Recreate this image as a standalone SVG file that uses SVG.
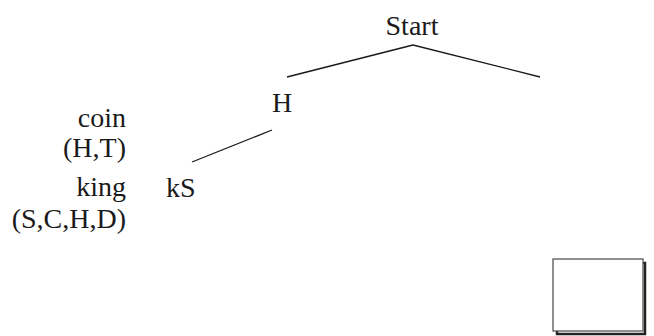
<svg xmlns="http://www.w3.org/2000/svg" width="654" height="336" viewBox="0 0 654 336">
<style>
text{font-family:"Liberation Serif","DejaVu Serif",serif;font-size:28px;fill:#1a1a1a}
.r{text-anchor:end}
.m{text-anchor:middle}
.edge{stroke:#1a1a1a;stroke-width:1.3;fill:none}
</style>
<rect width="654" height="336" fill="#fff"/>
<g id="connectors">
<line class="edge" x1="413" y1="45" x2="287" y2="77"/>
<line class="edge" x1="413" y1="45" x2="540" y2="77"/>
<line class="edge" x1="272" y1="130" x2="192" y2="162"/>
</g>
<g id="node-start"><text class="m" x="412" y="35">Start</text></g>
<g id="node-h"><text class="m" x="282" y="112">H</text></g>
<g id="node-ks"><text x="166" y="197">kS</text></g>
<g id="label-coin">
<text class="r" x="126" y="127">coin</text>
<text class="r" x="126" y="157">(H,T)</text>
</g>
<g id="label-king">
<text class="r" x="126" y="196">king</text>
<text class="r" x="126" y="228">(S,C,H,D)</text>
</g>
<g id="box">
<rect x="557" y="263" width="88" height="71" fill="#fff" stroke="#222" stroke-width="2.5"/>
<rect x="553" y="259" width="90" height="72" fill="#fff" stroke="#555" stroke-width="1.3"/>
</g>
</svg>
